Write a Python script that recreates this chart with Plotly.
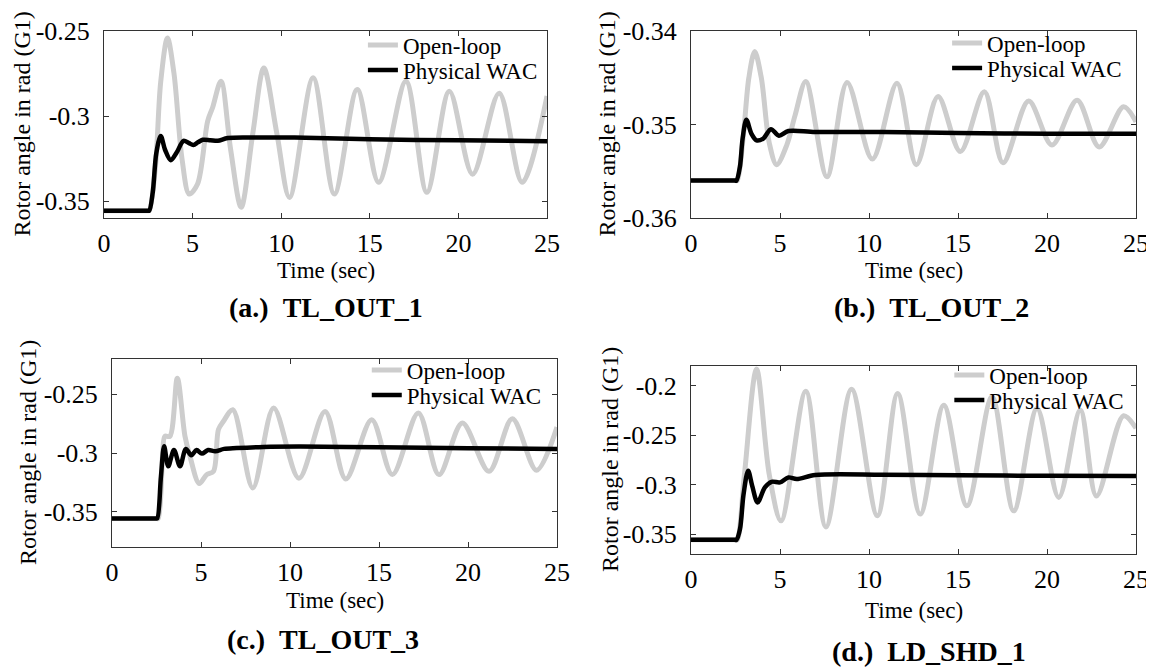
import plotly.graph_objects as go

# ---------------- data ----------------
x_ticks = [0, 5, 10, 15, 20, 25]
x_tick_text = ["0", "5", "10", "15", "20", "25"]

panel_titles = ["(a.)&nbsp;&nbsp;TL_OUT_1", "(b.)&nbsp;&nbsp;TL_OUT_2",
                "(c.)&nbsp;&nbsp;TL_OUT_3", "(d.)&nbsp;&nbsp;LD_SHD_1"]
series_names = ["Open-loop", "Physical WAC"]

# (a) TL_OUT_1
t_a_open = [0, 2.45, 2.55, 2.9, 3.2, 3.58, 3.95, 4.4, 4.81, 5.28, 5.85, 6.13, 6.6, 7.15, 7.74, 8.4, 9.02,
            9.75, 10.47, 11.8, 13.0, 14.29, 15.5, 17.04, 18.22, 19.49, 20.8, 22.3, 23.6, 25]
v_a_open = [-0.3557, -0.3557, -0.3557, -0.33, -0.28, -0.2541, -0.275, -0.325, -0.3459, -0.340, -0.303,
            -0.295, -0.2795, -0.32, -0.3537, -0.31, -0.2717, -0.31, -0.3479, -0.2775, -0.3459, -0.2844,
            -0.339, -0.2795, -0.3449, -0.2854, -0.3342, -0.2866, -0.339, -0.2882]
t_a_wac = [0, 2.45, 2.55, 2.75, 2.95, 3.2, 3.45, 3.77, 4.1, 4.49, 4.8, 5.04, 5.3, 5.57, 6.0, 6.42, 6.98,
           8.5, 10.75, 15, 20, 25]
v_a_wac = [-0.3557, -0.3557, -0.3557, -0.345, -0.322, -0.3117, -0.32, -0.326, -0.3215, -0.3146, -0.316,
           -0.317, -0.3155, -0.314, -0.3142, -0.3146, -0.313, -0.3127, -0.3127, -0.3137, -0.3143, -0.3148]
y_a_ticks = [-0.35, -0.3, -0.25]
y_a_text = ["-0.35", "-0.3", "-0.25"]
y_a_range = [-0.36, -0.25]

# (b) TL_OUT_2
t_b_open = [0, 2.5, 2.6, 2.95, 3.25, 3.58, 3.95, 4.4, 4.81, 5.38, 5.85, 6.45, 7.64, 8.77, 10.19, 11.57,
            12.66, 13.88, 15.13, 16.48, 17.53, 18.97, 20.28, 21.69, 22.93, 24.3, 25]
v_b_open = [-0.356, -0.356, -0.356, -0.351, -0.345, -0.3422, -0.345, -0.352, -0.3543, -0.3522, -0.349,
            -0.3454, -0.3556, -0.3455, -0.3537, -0.3456, -0.3543, -0.347, -0.3529, -0.3465, -0.3541,
            -0.3475, -0.3522, -0.3474, -0.3524, -0.3481, -0.3497]
t_b_wac = [0, 2.45, 2.55, 2.75, 2.9, 3.11, 3.4, 3.68, 4.06, 4.49, 4.94, 5.47, 6.98, 10.75, 15, 20, 25]
v_b_wac = [-0.356, -0.356, -0.356, -0.3545, -0.3515, -0.3495, -0.351, -0.3517, -0.3515, -0.3505,
           -0.3512, -0.3507, -0.3508, -0.3508, -0.3509, -0.351, -0.351]
y_b_ticks = [-0.36, -0.35, -0.34]
y_b_text = ["-0.36", "-0.35", "-0.34"]
y_b_range = [-0.36, -0.34]

# (c) TL_OUT_3
t_c_open = [0, 2.5, 2.6, 2.85, 2.97, 3.25, 3.67, 4.1, 4.38, 4.9, 5.32, 5.7, 5.98, 6.26, 6.79, 7.91, 9.08,
            10.5, 11.97, 13.13, 14.59, 15.75, 17.21, 18.37, 19.68, 21.18, 22.49, 23.85, 25]
v_c_open = [-0.3557, -0.3557, -0.3557, -0.30, -0.2858, -0.2858, -0.2363, -0.2858, -0.3028, -0.326,
            -0.3184, -0.3156, -0.28, -0.273, -0.2632, -0.3297, -0.2618, -0.3215, -0.2646, -0.3221,
            -0.2717, -0.3184, -0.266, -0.3184, -0.2745, -0.3156, -0.2709, -0.3147, -0.278]
t_c_wac = [0, 2.45, 2.54, 2.75, 2.93, 3.16, 3.48, 3.82, 4.15, 4.45, 4.75, 5.05, 5.4, 5.8, 6.3, 7.0, 8.5,
           10.6, 15, 20, 25]
v_c_wac = [-0.3557, -0.3557, -0.3557, -0.32, -0.2943, -0.3113, -0.2975, -0.3113, -0.2965, -0.302,
           -0.2975, -0.3005, -0.2975, -0.2985, -0.2965, -0.2958, -0.2948, -0.2945, -0.2952, -0.296,
           -0.2965]
y_c_ticks = [-0.35, -0.3, -0.25]
y_c_text = ["-0.35", "-0.3", "-0.25"]
y_c_range = [-0.38, -0.22]

# (d) LD_SHD_1
t_d_open = [0, 2.5, 2.6, 3.0, 3.68, 4.4, 5.06, 6.45, 7.58, 9.02, 10.47, 11.61, 12.88, 14.2, 15.5, 16.91,
            18.13, 19.44, 20.66, 21.87, 22.78, 24.3, 25]
v_d_open = [-0.3557, -0.3557, -0.3557, -0.29, -0.1831, -0.29, -0.3365, -0.2054, -0.3426, -0.2034,
            -0.3314, -0.2078, -0.3297, -0.2196, -0.3213, -0.211, -0.3264, -0.223, -0.3128, -0.2247,
            -0.3114, -0.2303, -0.2428]
t_d_wac = [0, 2.45, 2.55, 2.75, 2.95, 3.21, 3.45, 3.74, 4.15, 4.53, 5.0, 5.47, 5.94, 6.98, 10.75, 15, 20, 25]
v_d_wac = [-0.3557, -0.3557, -0.3557, -0.345, -0.31, -0.2858, -0.302, -0.3179, -0.3027, -0.297,
           -0.2976, -0.2926, -0.2943, -0.2902, -0.2899, -0.2905, -0.291, -0.2912]
y_d_ticks = [-0.35, -0.3, -0.25, -0.2]
y_d_text = ["-0.35", "-0.3", "-0.25", "-0.2"]
y_d_range = [-0.37, -0.18]

# ---------------- layout ----------------
W, H = 1154, 668
OFF = 8  # the page body adds an 8px margin; positions below are screen pixels
FONT = "Liberation Serif"
GRAY = "#cdcdcd"
BLACK = "#000000"


def px(x):
    return (x - OFF) / W


def py(y):
    return 1 - (y - OFF) / H


# box = (left, right, top, bottom) in screen pixels
panels = [
    dict(box=(104, 547, 31, 218), t_open=t_a_open, v_open=v_a_open, t_wac=t_a_wac, v_wac=v_a_wac,
         yt=y_a_ticks, ytt=y_a_text, yr=y_a_range, title=panel_titles[0], ty=307, tx=0.5, xty=270,
         yty=21, legx=0.598, legy=(14, 39)),
    dict(box=(691, 1136, 31, 218), t_open=t_b_open, v_open=v_b_open, t_wac=t_b_wac, v_wac=v_b_wac,
         yt=y_b_ticks, ytt=y_b_text, yr=y_b_range, title=panel_titles[1], ty=307, tx=0.54, xty=270,
         yty=606, legx=0.589, legy=(12, 37)),
    dict(box=(112, 557, 359, 547), t_open=t_c_open, v_open=v_c_open, t_wac=t_c_wac, v_wac=v_c_wac,
         yt=y_c_ticks, ytt=y_c_text, yr=y_c_range, title=panel_titles[2], ty=639, tx=0.475, xty=600,
         yty=28, legx=0.586, legy=(11, 36)),
    dict(box=(691, 1136, 366, 554), t_open=t_d_open, v_open=v_d_open, t_wac=t_d_wac, v_wac=v_d_wac,
         yt=y_d_ticks, ytt=y_d_text, yr=y_d_range, title=panel_titles[3], ty=651, tx=0.535, xty=610,
         yty=610, legx=0.594, legy=(9, 34)),
]

fig = go.Figure()
layout = dict(
    template="none",
    width=W, height=H,
    margin=dict(l=0, r=0, t=0, b=0, autoexpand=False),
    paper_bgcolor="white", plot_bgcolor="white",
    font=dict(family=FONT, color="black", size=22),
    showlegend=True,
    annotations=[],
)

leg_idx = 0
for i, p in enumerate(panels):
    k = "" if i == 0 else str(i + 1)
    x0, x1, y0, y1 = p["box"]
    specs = [(p["t_open"], p["v_open"], series_names[0], GRAY, 5),
             (p["t_wac"], p["v_wac"], series_names[1], BLACK, 4.5)]
    for j, (tt, vv, nm, col, lw) in enumerate(specs):
        leg_idx += 1
        leg = "legend" if leg_idx == 1 else f"legend{leg_idx}"
        fig.add_trace(go.Scatter(x=tt, y=vv, mode="lines", name=nm,
                                 line=dict(color=col, width=lw, shape="spline", smoothing=0.9),
                                 xaxis="x" + k, yaxis="y" + k, legend=leg))
        lx = x0 + p["legx"] * (x1 - x0) - 6
        ly = y0 + p["legy"][j]
        layout[leg] = dict(x=px(lx), y=py(ly), xanchor="left", yanchor="middle",
                           bgcolor="rgba(0,0,0,0)", borderwidth=0,
                           font=dict(family=FONT, size=23, color="black"), itemwidth=30)
    axis_style = dict(showline=True, mirror="ticks", linecolor="#333333", linewidth=1,
                      ticks="inside", ticklen=5, tickcolor="#333333", showgrid=False, zeroline=False,
                      automargin=False, tickfont=dict(family=FONT, size=26, color="black"))
    layout["xaxis" + k] = dict(domain=[px(x0), px(x1)], range=[0, 25], anchor="y" + k,
                               tickvals=x_ticks, ticktext=x_tick_text, ticklabelstandoff=2,
                               **axis_style)
    layout["yaxis" + k] = dict(domain=[py(y1), py(y0)], range=p["yr"], anchor="x" + k,
                               tickvals=p["yt"], ticktext=p["ytt"], ticklabelstandoff=8,
                               **axis_style)
    cx = (x0 + x1) / 2
    layout["annotations"].append(dict(text="Time (sec)", x=px(cx), y=py(p["xty"]), xref="paper",
                                      yref="paper", xanchor="center", yanchor="middle",
                                      showarrow=False, font=dict(size=23)))
    layout["annotations"].append(dict(text="Rotor angle in rad (G1)", x=px(p["yty"]),
                                      y=py((y0 + y1) / 2), xref="paper", yref="paper",
                                      xanchor="center", yanchor="middle",
                                      textangle=-90, showarrow=False, font=dict(size=24)))
    tx = x0 + p["tx"] * (x1 - x0)
    layout["annotations"].append(dict(text="<b>" + p["title"] + "</b>", x=px(tx), y=py(p["ty"]),
                                      xref="paper", yref="paper", xanchor="center", yanchor="middle",
                                      showarrow=False, font=dict(size=28)))

fig.update_layout(**layout)
fig.write_html("out.html")
